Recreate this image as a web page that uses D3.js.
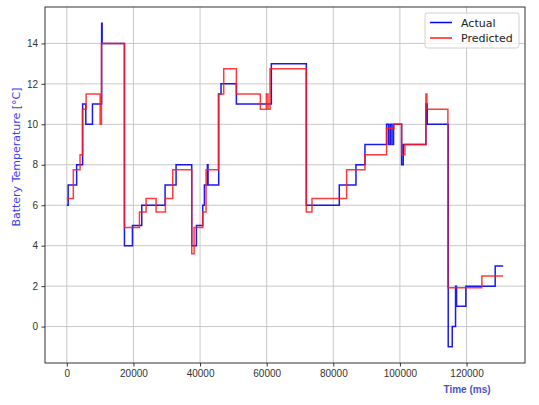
<!DOCTYPE html>
<html>
<head>
<meta charset="utf-8">
<script src="https://cdn.jsdelivr.net/npm/d3@7"></script>
<style>
  body { margin: 0; background: #fff; }
  svg { display: block; font-family: "DejaVu Sans", sans-serif; }
</style>
</head>
<body>
<div class="chart"></div>
<script>
// step data (time in ms, temperature in °C)
let actualTime = [0, 400, 2950, 4750, 5700, 7700, 10450, 10600, 17300, 19700, 22500, 29500, 32800, 37500, 38900, 40800, 41300, 42200, 42400, 45600, 46300, 50900, 61400, 71900, 81800, 86800, 89500, 96000, 96600, 97100, 97600, 98100, 100500, 101000, 107800, 108200, 114500, 115700, 116700, 117000, 119800, 128600, 131000]
let actualTemp = [6, 7, 8, 11, 10, 11, 15, 14, 4, 5, 6, 7, 8, 4, 5, 6, 7, 8, 7, 11.5, 12, 11, 13, 6, 7, 8, 9, 10, 9, 10, 9, 10, 8, 9, 11, 10, -1, 0, 2, 1, 2, 3, 3]
let predTime = [0, 1950, 3970, 4700, 5800, 10000, 10400, 17300, 21800, 23800, 26800, 29600, 31800, 37500, 38200, 40800, 41800, 45500, 47100, 50900, 58100, 59900, 60400, 61000, 71900, 73600, 84000, 89500, 96000, 98200, 100500, 101500, 107800, 108100, 114400, 124600, 131000]
let predTemp = [6.33, 7.75, 8.5, 10.75, 11.5, 10, 14, 4.9, 5.67, 6.33, 5.67, 6.33, 7.75, 3.6, 4.9, 5.67, 7.75, 11.5, 12.75, 11.5, 10.75, 11.5, 10.75, 12.75, 5.67, 6.33, 7.75, 8.5, 9.8, 10, 8.5, 9, 11.5, 10.75, 1.92, 2.5, 2.5]
let xTicks = [0, 20000, 40000, 60000, 80000, 100000, 120000]
let yTicks = [0, 2, 4, 6, 8, 10, 12, 14]
let seriesNames = ["Actual", "Predicted"]
let seriesColors = ["#0000ee", "#ff1a1a"]

let width = 539, height = 405
let mLeft = 45, mRight = 525, mTop = 7, mBottom = 363

let svg = d3.select(".chart")
    .append("svg")
    .attr("width", width)
    .attr("height", height)

let x = d3.scaleLinear().domain([-6550, 137550]).range([mLeft, mRight])
let y = d3.scaleLinear().domain([-1.8, 15.8]).range([mBottom, mTop])

//grid
svg.append("g")
    .selectAll("line")
    .data(xTicks)
    .enter()
    .append("line")
    .attr("x1", (d) => x(d)).attr("x2", (d) => x(d))
    .attr("y1", mTop).attr("y2", mBottom)
    .attr("stroke", "#c8c8c8").attr("stroke-width", 1)
svg.append("g")
    .selectAll("line")
    .data(yTicks)
    .enter()
    .append("line")
    .attr("y1", (d) => y(d)).attr("y2", (d) => y(d))
    .attr("x1", mLeft).attr("x2", mRight)
    .attr("stroke", "#c8c8c8").attr("stroke-width", 1)

//axes
let xAxis = svg.append("g")
    .attr("transform", `translate(0,${mBottom})`)
    .call(d3.axisBottom(x).tickValues(xTicks).tickFormat(d3.format("d")).tickSize(3.5).tickPadding(3.5))
let yAxis = svg.append("g")
    .attr("transform", `translate(${mLeft},0)`)
    .call(d3.axisLeft(y).tickValues(yTicks).tickSize(3.5).tickPadding(3.5))
;[xAxis, yAxis].forEach((ax) => {
    ax.select(".domain").remove()
    ax.selectAll("text").attr("font-size", 10).attr("fill", "#333")
    ax.selectAll("line").attr("stroke", "#333")
})
svg.append("rect")
    .attr("x", mLeft).attr("y", mTop)
    .attr("width", mRight - mLeft).attr("height", mBottom - mTop)
    .attr("fill", "none").attr("stroke", "#333").attr("stroke-width", 1)

//lines
let line = d3.line()
    .x((d) => x(d[0]))
    .y((d) => y(d[1]))
    .curve(d3.curveStepAfter)
let actual = actualTime.map((t, i) => [t, actualTemp[i]])
let pred = predTime.map((t, i) => [t, predTemp[i]])
;[actual, pred].forEach((pts, i) => {
    svg.append("path")
        .datum(pts)
        .attr("d", line)
        .attr("fill", "none")
        .attr("stroke", seriesColors[i])
        .attr("stroke-opacity", i == 0 ? 0.9 : 0.85)
        .attr("stroke-width", 1.5)
})

//labels
svg.append("text")
    .attr("transform", "translate(20,157) rotate(-90)")
    .attr("text-anchor", "middle")
    .attr("font-size", 11)
    .attr("fill", "#3a3af0")
    .text("Battery Temperature [°C]")
svg.append("text")
    .attr("x", 467).attr("y", 393)
    .attr("text-anchor", "middle")
    .attr("font-size", 10)
    .attr("font-weight", "bold")
    .attr("font-family", "'Liberation Sans', sans-serif")
    .attr("fill", "#4b52c8")
    .text("Time (ms)")

//legend
let legend = svg.append("g")
legend.append("rect")
    .attr("x", 425).attr("y", 13)
    .attr("width", 94).attr("height", 35)
    .attr("rx", 2.5)
    .attr("fill", "#fff").attr("fill-opacity", 0.8)
    .attr("stroke", "#d0d0d0")
seriesNames.forEach((name, i) => {
    legend.append("line")
        .attr("x1", 430).attr("x2", 452)
        .attr("y1", 22.5 + i * 15.5).attr("y2", 22.5 + i * 15.5)
        .attr("stroke", seriesColors[i]).attr("stroke-width", 1.5)
    legend.append("text")
        .attr("x", 461).attr("y", 26.5 + i * 15.5)
        .attr("font-size", 11)
        .attr("fill", "#222")
        .text(name)
})
</script>
</body>
</html>
